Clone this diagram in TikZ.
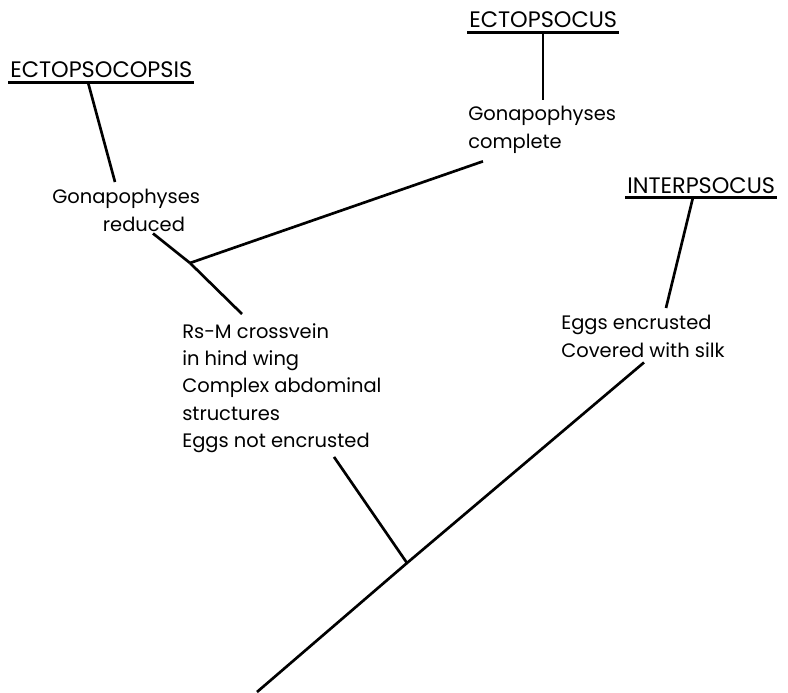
\documentclass[tikz,border=0pt]{standalone}
\usepackage{fontspec}
\setmainfont{Poppins}
\usetikzlibrary{calc}

\begin{document}
\begin{tikzpicture}[
    x=0.75pt, y=-0.75pt,
    genus/.style={font=\fontsize{16.8}{19}\selectfont, inner xsep=1.5pt, inner ysep=3pt,
      text depth=0pt, anchor=base west},
    trait/.style={font=\fontsize{14.6}{20.5}\selectfont, inner sep=0pt,
      anchor=north west, align=left},
    branch/.style={line width=2pt}
  ]
  \useasboundingbox (0,0) rectangle (788,692);

  % genera
  \node[genus] (ectopsocopsis) at (8,78) {ECTOPSOCOPSIS};
  \node[genus] (ectopsocus) at (467,28) {ECTOPSOCUS};
  \node[genus] (interpsocus) at (625,193) {INTERPSOCUS};
  \foreach \g in {ectopsocopsis,ectopsocus,interpsocus}
    \draw[branch] (\g.south west) -- (\g.south east);

  % characters
  \node[trait] (reduced) at (52,189) {Gonapophyses\\\hspace*{38pt}reduced};
  \node[trait] (complete) at (468,106) {Gonapophyses\\complete};
  \node[trait] (rsm) at (182,323) {Rs-M crossvein\\in hind wing\\Complex abdominal\\structures\\Eggs not encrusted};
  \node[trait] (eggs) at (561,315) {Eggs encrusted\\Covered with silk};

  % forks
  \coordinate (fork1) at (190,263);
  \coordinate (fork2) at (407,563);
  \coordinate (base) at (257,692);

  \draw[branch] (base) -- (fork2) -- ($(eggs.south west)+(83,5)$);
  \draw[branch] (fork2) -- ($(rsm.south west)+(152,4)$);
  \draw[branch] (fork1) -- ($(rsm.north west)+(60,-9)$);
  \draw[branch] (fork1) -- ($(reduced.south west)+(101,2)$);
  \draw[branch] (fork1) -- ($(complete.south west)+(15,8)$);
  \draw[branch] ($(ectopsocopsis.south west)+(80,0)$) -- ($(reduced.north west)+(63,-7)$);
  \draw[branch] ($(ectopsocus.south west)+(76,0)$) -- ($(complete.north west)+(75,-6)$);
  \draw[branch] ($(interpsocus.south west)+(68,0)$) -- ($(eggs.north west)+(105,-7)$);
\end{tikzpicture}
\end{document}
